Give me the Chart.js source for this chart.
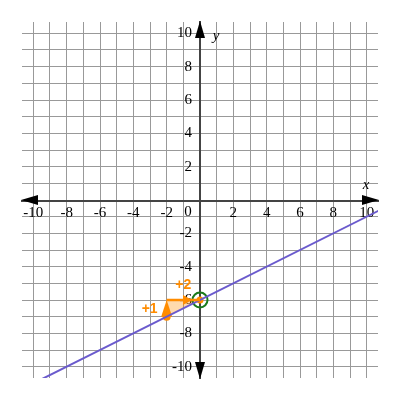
<!DOCTYPE html>
<html><head><meta charset="utf-8">
<script src="https://cdn.jsdelivr.net/npm/chart.js@4/dist/chart.umd.min.js"></script>
<style>html,body{margin:0;padding:0;background:#fff}#wrap{width:400px;height:400px}</style>
</head><body><div id="wrap"><canvas id="c" width="400" height="400"></canvas></div>
<script>
// ---- data ----
const axisMin = -10.68, axisMax = 10.68;
const gridTicks = [-10,-9,-8,-7,-6,-5,-4,-3,-2,-1,0,1,2,3,4,5,6,7,8,9,10];
const xTickValues = [-10,-8,-6,-4,-2,2,4,6,8,10];
const xTickLabels = ['-10','-8','-6','-4','-2','2','4','6','8','10'];
const originLabel = '0';
const yTickValues = [-10,-8,-6,-4,-2,2,4,6,8,10];
const yTickLabels = ['-10','-8','-6','-4','-2','2','4','6','8','10'];
const axisNames = ['x','y'];
const lineX = [-11, 11];
const lineY = [-11.5, -0.5];
const interceptX = [0];
const interceptY = [-6];
const riseX = [-2, -2];
const riseY = [-7, -6];
const runX = [-2, 0];
const runY = [-6, -6];
const riseText = '+1';
const runText = '+2';

const ORANGE = '#ff8c00';
const pts = (xs, ys) => xs.map((x, i) => ({x, y: ys[i]}));
const serif = 'Liberation Serif, Times New Roman, serif';

const marks = {
  id: 'marks',
  beforeDatasetsDraw(chart) {
    const {ctx, scales: {x, y}} = chart;
    ctx.save();
    ctx.fillStyle = 'rgba(255,140,0,0.32)';
    ctx.beginPath();
    ctx.moveTo(x.getPixelForValue(riseX[0]), y.getPixelForValue(riseY[0]));
    ctx.lineTo(x.getPixelForValue(riseX[1]), y.getPixelForValue(riseY[1]));
    ctx.lineTo(x.getPixelForValue(runX[1]), y.getPixelForValue(runY[1]));
    ctx.closePath();
    ctx.fill();
    const rx = x.getPixelForValue(riseX[0]);
    const r0 = y.getPixelForValue(riseY[0]), r1 = y.getPixelForValue(riseY[1]);
    ctx.fillStyle = ORANGE;
    ctx.beginPath();
    ctx.moveTo(rx, r1);
    ctx.lineTo(rx + 5.5, r0);
    ctx.lineTo(rx - 5.5, r0);
    ctx.closePath();
    ctx.fill();
    ctx.beginPath(); ctx.arc(rx, r0, 4, 0, Math.PI * 2); ctx.fill();
    const ry = y.getPixelForValue(runY[1]);
    const tip = x.getPixelForValue(runX[1]) - 8;
    ctx.beginPath();
    ctx.moveTo(tip, ry);
    ctx.lineTo(tip - 9, ry - 5);
    ctx.lineTo(tip - 9, ry + 5);
    ctx.closePath();
    ctx.fill();
    ctx.restore();
  },
  afterDraw(chart) {
    const {ctx, chartArea: a, scales: {x, y}} = chart;
    const cx = x.getPixelForValue(0), cy = y.getPixelForValue(0);
    ctx.save();
    ctx.fillStyle = '#000';
    const tri = (p) => { ctx.beginPath(); ctx.moveTo(p[0], p[1]); ctx.lineTo(p[2], p[3]); ctx.lineTo(p[4], p[5]); ctx.closePath(); ctx.fill(); };
    tri([cx, a.top - 1, cx - 5, a.top + 16, cx + 5, a.top + 16]);
    tri([cx, a.bottom + 1, cx - 5, a.bottom - 16, cx + 5, a.bottom - 16]);
    tri([a.left - 1, cy, a.left + 16, cy - 5, a.left + 16, cy + 5]);
    tri([a.right + 1, cy, a.right - 16, cy - 5, a.right - 16, cy + 5]);
    ctx.font = 'italic 15px ' + serif;
    ctx.textAlign = 'center'; ctx.textBaseline = 'middle';
    ctx.fillText(axisNames[0], a.right - 12, cy - 15);
    ctx.fillText(axisNames[1], cx + 16, a.top + 14);
    ctx.font = '15px ' + serif;
    ctx.textBaseline = 'middle';
    ctx.fillText(originLabel, cx - 12, cy + 12);
    ctx.fillStyle = ORANGE;
    ctx.font = 'bold 14px Liberation Sans, Arial, sans-serif';
    ctx.textBaseline = 'middle';
    ctx.fillText(riseText, x.getPixelForValue(riseX[0]) - 17, (y.getPixelForValue(riseY[0]) + y.getPixelForValue(riseY[1])) / 2 + 1);
    ctx.fillText(runText, (x.getPixelForValue(runX[0]) + x.getPixelForValue(runX[1])) / 2 + 0, y.getPixelForValue(runY[0]) - 15);
    ctx.restore();
  }
};

const axisCommon = {
  type: 'linear', min: axisMin, max: axisMax,
  afterBuildTicks: s => { s.ticks = gridTicks.map(v => ({value: v})); },
  border: {color: '#444', width: 2},
  grid: {color: '#999', lineWidth: 1, drawTicks: false},
};

new Chart(document.getElementById('c'), {
  type: 'scatter',
  data: {
    datasets: [
      {data: pts(runX, runY), showLine: true, borderColor: ORANGE, borderWidth: 2.5, pointRadius: 0},
      {data: pts(lineX, lineY), showLine: true, borderColor: '#6a5acd', borderWidth: 2, pointRadius: 0},
      {data: pts(interceptX, interceptY), showLine: false, pointRadius: 3.5, pointBackgroundColor: ORANGE, pointBorderWidth: 0},
      {data: pts(interceptX, interceptY), showLine: false, pointRadius: 7.5, pointBorderColor: '#1a7a1a', pointBackgroundColor: 'rgba(0,0,0,0)', pointBorderWidth: 2}
    ]
  },
  options: {
    responsive: false, animation: false, devicePixelRatio: 1,
    layout: {padding: 22},
    plugins: {legend: {display: false}, tooltip: {enabled: false}},
    scales: {
      x: Object.assign({}, axisCommon, {
        position: 'center',
        ticks: {autoSkip: false, maxRotation: 0, color: '#000', padding: 4, font: {family: serif, size: 15},
          callback: v => { const i = xTickValues.indexOf(v); return i >= 0 ? xTickLabels[i] : ''; }}
      }),
      y: Object.assign({}, axisCommon, {
        position: 'center',
        ticks: {autoSkip: false, color: '#000', padding: 8, font: {family: serif, size: 15},
          callback: v => { const i = yTickValues.indexOf(v); return i >= 0 ? yTickLabels[i] : ''; }}
      })
    }
  },
  plugins: [marks]
});
</script>
</body></html>
